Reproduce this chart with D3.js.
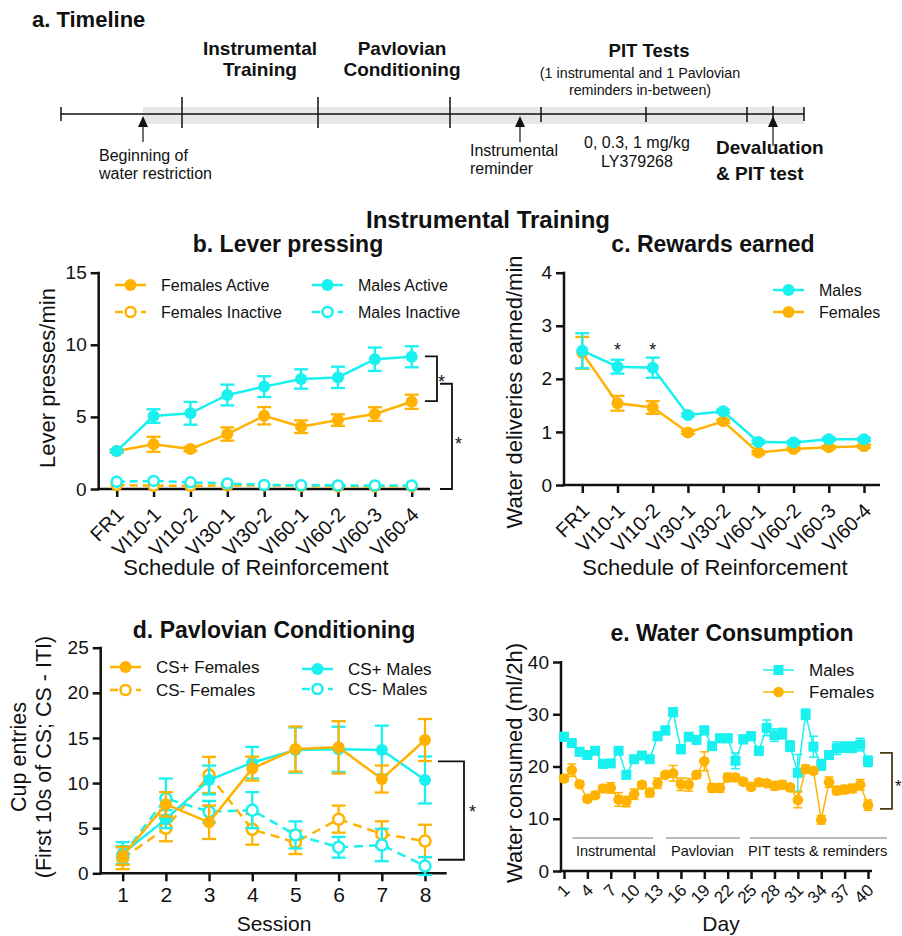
<!DOCTYPE html>
<html lang="en">
<head>
<meta charset="UTF-8">
<title>Figure</title>
<script src="https://cdn.jsdelivr.net/npm/d3@7"></script>
<style>
*{margin:0; padding:0;}
body{background:#fff;}
svg text{font-family:"Liberation Sans", Arial, Helvetica, sans-serif; fill:#111;}
.axis path, .axis line{stroke:#111;}
</style>
</head>
<body>
<script>
// ---- data ----
var schedules = ["FR1", "VI10-1", "VI10-2", "VI30-1", "VI30-2", "VI60-1", "VI60-2", "VI60-3", "VI60-4"];

var femActive     = [2.63, 3.10, 2.77, 3.81, 5.08, 4.32, 4.78, 5.20, 6.05];
var femActiveSem  = [0.10, 0.52, 0.15, 0.46, 0.60, 0.44, 0.40, 0.47, 0.49];
var malActive     = [2.63, 5.06, 5.25, 6.52, 7.10, 7.63, 7.74, 9.00, 9.17];
var malActiveSem  = [0.10, 0.47, 0.79, 0.72, 0.72, 0.67, 0.74, 0.81, 0.73];
var femInactive   = [0.28, 0.22, 0.22, 0.25, 0.25, 0.20, 0.18, 0.18, 0.18];
var malInactive   = [0.50, 0.56, 0.46, 0.39, 0.28, 0.26, 0.25, 0.25, 0.24];

var malRewards    = [2.53, 2.23, 2.21, 1.32, 1.39, 0.81, 0.80, 0.86, 0.86];
var malRewardsSem = [0.33, 0.13, 0.19, 0.03, 0.03, 0.03, 0.03, 0.03, 0.03];
var femRewards    = [2.49, 1.54, 1.46, 0.99, 1.20, 0.61, 0.68, 0.71, 0.73];
var femRewardsSem = [0.30, 0.14, 0.12, 0.03, 0.03, 0.03, 0.03, 0.03, 0.03];

var sessions      = [1, 2, 3, 4, 5, 6, 7, 8];
var csPlusFem     = [1.92, 7.64, 5.65, 11.6, 13.77, 13.96, 10.45, 14.77];
var csPlusFemSem  = [1.0, 1.35, 1.85, 1.33, 2.5, 2.9, 1.5, 2.33];
var csPlusMal     = [2.2, 6.0, 10.34, 12.26, 13.66, 13.74, 13.66, 10.34];
var csPlusMalSem  = [1.25, 1.0, 1.6, 1.75, 2.5, 2.5, 2.7, 2.6];
var csMinFem      = [1.66, 5.0, 10.9, 4.87, 3.43, 6.0, 4.36, 3.58];
var csMinFemSem   = [1.2, 1.45, 2.0, 1.7, 1.3, 1.5, 1.4, 1.8];
var csMinMal      = [2.0, 8.3, 6.83, 7.0, 4.25, 2.88, 3.14, 0.81];
var csMinMalSem   = [1.0, 2.2, 1.2, 2.0, 1.5, 1.15, 1.8, 1.0];

var days = d3.range(1, 41);
var malWater = [25.7, 24.5, 22.8, 22.2, 23.0, 20.5, 20.6, 23.0, 18.4, 21.4,
                22.1, 21.4, 25.8, 26.9, 30.4, 23.3, 25.7, 25.1, 26.9, 23.9,
                25.4, 25.4, 21.1, 25.2, 25.8, 23.0, 27.4, 26.0, 26.3, 23.9,
                18.8, 30.0, 23.8, 20.3, 22.2, 23.5, 23.7, 23.7, 24.2, 21.0];
var malWaterSem = [0.8, 0.6, 0.6, 0.6, 0.6, 0.6, 0.5, 0.6, 0.6, 0.6,
                   0.6, 0.6, 0.8, 0.8, 0.8, 0.8, 0.7, 0.7, 0.8, 0.8,
                   0.7, 0.8, 1.5, 0.8, 0.8, 0.8, 1.5, 1.2, 1.0, 1.0,
                   3.5, 1.0, 2.0, 1.0, 0.8, 1.2, 1.0, 1.0, 1.2, 1.0];
var femWater = [17.7, 19.3, 16.6, 13.8, 14.5, 15.8, 15.9, 13.7, 13.3, 14.7,
                16.5, 15.0, 16.8, 18.4, 18.7, 16.6, 16.5, 18.4, 21.0, 15.9,
                15.9, 17.9, 17.9, 17.1, 16.1, 17.0, 16.8, 16.3, 16.5, 16.0,
                13.6, 19.5, 19.2, 9.8, 17.0, 15.4, 15.6, 15.8, 16.5, 12.6];
var femWaterSem = [0.6, 1.2, 0.6, 0.6, 0.6, 0.6, 1.0, 1.3, 1.0, 1.0,
                   0.6, 0.8, 1.0, 0.6, 1.5, 1.2, 1.2, 0.6, 1.8, 0.8,
                   0.8, 0.8, 0.6, 0.6, 0.6, 0.6, 0.6, 0.8, 0.8, 0.6,
                   1.5, 0.8, 0.6, 0.8, 1.0, 0.8, 0.8, 0.8, 1.0, 1.0];

var ticksB = [0, 5, 10, 15];
var ticksC = [0, 1, 2, 3, 4];
var ticksD = [0, 5, 10, 15, 20, 25];
var ticksE = [0, 10, 20, 30, 40];
var dayTicks = d3.range(1, 41, 3);

var ORANGE = "#FFB300", CYAN = "#19F0F0";

var svg = d3.select("body").append("svg")
	.attr("width", 902)
	.attr("height", 936);

function txt(g, x, y, s, size, opts) {
	opts = opts || {};
	return g.append("text")
		.attr("x", x).attr("y", y)
		.attr("font-size", size)
		.attr("font-weight", opts.bold ? "bold" : null)
		.attr("text-anchor", opts.anchor || "start")
		.text(s);
}
function vtxt(g, x, y, s, size) {
	return g.append("text").attr("transform", "translate(" + x + "," + y + ") rotate(-90)")
		.attr("text-anchor", "middle").attr("font-size", size).text(s);
}

// ---- a. timeline ----
var tl = svg.append("g");
txt(tl, 32, 27, "a. Timeline", 22, {bold: true});
tl.append("rect").attr("x", 143).attr("y", 107).attr("width", 661).attr("height", 17).attr("fill", "#e6e8e8");
tl.append("line").attr("x1", 61).attr("x2", 804).attr("y1", 114).attr("y2", 114).attr("stroke", "#111").attr("stroke-width", 1.5);
[[61, 107, 121], [182, 97, 128], [318, 97, 128], [450, 97, 128], [541, 107, 122], [646, 107, 122], [747, 107, 122], [773, 106, 120], [804, 107, 121]]
	.forEach(function(t) {
		tl.append("line").attr("x1", t[0]).attr("x2", t[0]).attr("y1", t[1]).attr("y2", t[2]).attr("stroke", "#111").attr("stroke-width", 1.5);
	});
[[143, 142], [520, 142], [773, 146]].forEach(function(a) {
	tl.append("line").attr("x1", a[0]).attr("x2", a[0]).attr("y1", 124).attr("y2", a[1]).attr("stroke", "#111").attr("stroke-width", 1.2);
	tl.append("path").attr("d", "M" + a[0] + ",116 l-5,11 l10,0 z").attr("fill", "#111");
});
txt(tl, 260, 55, "Instrumental", 19, {bold: true, anchor: "middle"});
txt(tl, 260, 76, "Training", 19, {bold: true, anchor: "middle"});
txt(tl, 402, 55, "Pavlovian", 19, {bold: true, anchor: "middle"});
txt(tl, 402, 76, "Conditioning", 19, {bold: true, anchor: "middle"});
txt(tl, 649, 57, "PIT Tests", 18.5, {bold: true, anchor: "middle"});
txt(tl, 640, 78, "(1 instrumental and 1 Pavlovian", 14.3, {anchor: "middle"});
txt(tl, 640, 95, "reminders in-between)", 14.3, {anchor: "middle"});
txt(tl, 99, 161, "Beginning of", 16);
txt(tl, 99, 179, "water restriction", 16);
txt(tl, 470, 156, "Instrumental", 16);
txt(tl, 470, 174, "reminder", 16);
txt(tl, 637, 148, "0, 0.3, 1  mg/kg", 16, {anchor: "middle"});
txt(tl, 637, 167, "LY379268", 16, {anchor: "middle"});
txt(tl, 716, 154, "Devaluation", 19, {bold: true});
txt(tl, 716, 180, "& PIT test", 19, {bold: true});

txt(svg, 488, 228, "Instrumental Training", 24, {bold: true, anchor: "middle"});

// ---- helpers ----
function drawAxes(g, x, y, yTicks, x0, xEnd, xTicks, opts) {
	var y0 = y.range()[0], yTop = y.range()[1];
	var ya = g.append("g").attr("class", "axis").attr("transform", "translate(" + x0 + ",0)")
		.call(d3.axisLeft(y).tickValues(yTicks).tickFormat(d3.format("d")).tickSize(8).tickPadding(4));
	ya.select(".domain").remove();
	ya.selectAll("line").attr("stroke-width", 2.5);
	ya.selectAll("text").attr("font-size", opts.yFont || 19).style("fill", "#111");
	g.append("line").attr("x1", x0).attr("x2", x0).attr("y1", yTop - 1).attr("y2", y0 + 1.2)
		.attr("stroke", "#111").attr("stroke-width", 2.5);
	var xAxis = d3.axisBottom(x).tickSize(8).tickPadding(6);
	if (xTicks) xAxis.tickValues(xTicks).tickFormat(d3.format("d"));
	var xa = g.append("g").attr("class", "axis").attr("transform", "translate(0," + y0 + ")").call(xAxis);
	xa.select(".domain").remove();
	xa.selectAll("line").attr("stroke-width", 2.5);
	xa.selectAll("text").attr("font-size", opts.xFont || 20).style("fill", "#111");
	if (opts.rotate) {
		xa.selectAll("text").attr("text-anchor", "end").attr("x", 0).attr("y", 0).attr("dy", "0.35em")
			.attr("transform", "translate(" + opts.rotate[0] + "," + opts.rotate[1] + ") rotate(-45)");
	}
	g.append("line").attr("x1", x0 - 1.2).attr("x2", xEnd).attr("y1", y0).attr("y2", y0)
		.attr("stroke", "#111").attr("stroke-width", 2.5);
}

function drawSeries(g, xs, vals, sems, x, y, o) {
	var pts = xs.map(function(d, i) { return {x: x(d), v: vals[i], s: sems ? sems[i] : 0}; });
	g.append("path").datum(pts)
		.attr("d", d3.line().x(function(d) { return d.x; }).y(function(d) { return y(d.v); }))
		.attr("fill", "none").attr("stroke", o.color).attr("stroke-width", o.lw || 2.5)
		.attr("stroke-dasharray", o.dash || null);
	if (sems) {
		var cw = o.cap || 7;
		pts.forEach(function(p) {
			if (!p.s) return;
			var ya = y(p.v + p.s), yb = y(p.v - p.s);
			var eb = g.append("g").attr("stroke", o.color).attr("stroke-width", o.ew || 2.3);
			eb.append("line").attr("x1", p.x).attr("x2", p.x).attr("y1", ya).attr("y2", yb);
			eb.append("line").attr("x1", p.x - cw).attr("x2", p.x + cw).attr("y1", ya).attr("y2", ya);
			eb.append("line").attr("x1", p.x - cw).attr("x2", p.x + cw).attr("y1", yb).attr("y2", yb);
		});
	}
	pts.forEach(function(p) {
		if (o.square) {
			g.append("rect").attr("x", p.x - o.r).attr("y", y(p.v) - o.r)
				.attr("width", 2 * o.r).attr("height", 2 * o.r).attr("fill", o.color);
		} else {
			g.append("circle").attr("cx", p.x).attr("cy", y(p.v)).attr("r", o.r || 6)
				.attr("fill", o.hollow ? "#fff" : o.color)
				.attr("stroke", o.hollow ? o.color : "none").attr("stroke-width", 2.5);
		}
	});
}

function legendItem(g, x, y, label, o, size) {
	g.append("line").attr("x1", x).attr("x2", x + 31).attr("y1", y).attr("y2", y)
		.attr("stroke", o.color).attr("stroke-width", o.lw || 2.5).attr("stroke-dasharray", o.dash || null);
	if (o.square) {
		g.append("rect").attr("x", x + 15.5 - o.r).attr("y", y - o.r).attr("width", 2 * o.r).attr("height", 2 * o.r).attr("fill", o.color);
	} else {
		g.append("circle").attr("cx", x + 15.5).attr("cy", y).attr("r", o.r || 6)
			.attr("fill", o.hollow ? "#fff" : o.color).attr("stroke", o.hollow ? o.color : "none").attr("stroke-width", 2.5);
	}
	txt(g, x + 46, y + 6, label, size || 16);
}

function bracket(g, x1, x2, ya, yb, color) {
	g.append("path").attr("d", "M" + x1 + "," + ya + "H" + x2 + "V" + yb + "H" + x1)
		.attr("fill", "none").attr("stroke", color || "#111").attr("stroke-width", 1.8);
}

// ---- b. lever pressing ----
var gb = svg.append("g");
var xb = d3.scalePoint().domain(schedules).range([116.7, 411.7]);
var yb = d3.scaleLinear().domain([0, 15]).range([489, 272.7]);
txt(gb, 288, 252, "b. Lever pressing", 23, {bold: true, anchor: "middle"});
drawAxes(gb, xb, yb, ticksB, 98.7, 430, null, {rotate: [3, 22]});
drawSeries(gb, schedules, femInactive, null, xb, yb, {color: ORANGE, hollow: true, dash: "8,5", r: 5});
drawSeries(gb, schedules, malInactive, null, xb, yb, {color: CYAN, hollow: true, dash: "8,5", r: 5});
drawSeries(gb, schedules, femActive, femActiveSem, xb, yb, {color: ORANGE});
drawSeries(gb, schedules, malActive, malActiveSem, xb, yb, {color: CYAN});
legendItem(gb, 115, 285, "Females Active", {color: ORANGE});
legendItem(gb, 115, 312, "Females Inactive", {color: ORANGE, hollow: true, dash: "8,5", r: 5});
legendItem(gb, 312, 285, "Males Active", {color: CYAN});
legendItem(gb, 312, 312, "Males Inactive", {color: CYAN, hollow: true, dash: "8,5", r: 5});
bracket(gb, 425, 437, yb(9.2), yb(6.1));
txt(gb, 438, 388, "*", 18);
bracket(gb, 440, 452, yb(7.3), yb(0));
txt(gb, 455, 450, "*", 18);
vtxt(gb, 55, 378, "Lever presses/min", 22);
txt(gb, 256, 575, "Schedule of Reinforcement", 22, {anchor: "middle"});

// ---- c. rewards earned ----
var gc = svg.append("g");
var xc = d3.scalePoint().domain(schedules).range([582.3, 864]);
var yc = d3.scaleLinear().domain([0, 4]).range([485, 272.7]);
txt(gc, 713, 252, "c. Rewards earned", 23, {bold: true, anchor: "middle"});
drawAxes(gc, xc, yc, ticksC, 564, 880, null, {rotate: [3, 22]});
drawSeries(gc, schedules, femRewards, femRewardsSem, xc, yc, {color: ORANGE});
drawSeries(gc, schedules, malRewards, malRewardsSem, xc, yc, {color: CYAN});
legendItem(gc, 773, 290, "Males", {color: CYAN});
legendItem(gc, 773, 312, "Females", {color: ORANGE});
txt(gc, xc("VI10-1"), 356, "*", 18, {anchor: "middle"});
txt(gc, xc("VI10-2"), 356, "*", 18, {anchor: "middle"});
vtxt(gc, 522, 392, "Water deliveries earned/min", 22);
txt(gc, 715, 575, "Schedule of Reinforcement", 22, {anchor: "middle"});

// ---- d. pavlovian conditioning ----
var gd = svg.append("g");
var xd = d3.scaleLinear().domain([1, 8]).range([122.7, 425]);
var yd = d3.scaleLinear().domain([0, 25]).range([873.3, 647.7]);
txt(gd, 274, 638, "d. Pavlovian Conditioning", 23, {bold: true, anchor: "middle"});
drawAxes(gd, xd, yd, ticksD, 100.7, 446.7, sessions, {xFont: 21});
drawSeries(gd, sessions, csMinFem, csMinFemSem, xd, yd, {color: ORANGE, hollow: true, dash: "9,6", r: 5.5});
drawSeries(gd, sessions, csMinMal, csMinMalSem, xd, yd, {color: CYAN, hollow: true, dash: "9,6", r: 5.5});
drawSeries(gd, sessions, csPlusMal, csPlusMalSem, xd, yd, {color: CYAN});
drawSeries(gd, sessions, csPlusFem, csPlusFemSem, xd, yd, {color: ORANGE});
legendItem(gd, 110, 667, "CS+ Females", {color: ORANGE}, 17);
legendItem(gd, 110, 690, "CS- Females", {color: ORANGE, hollow: true, dash: "8,5", r: 5}, 17);
legendItem(gd, 302, 669, "CS+ Males", {color: CYAN}, 17);
legendItem(gd, 302, 689, "CS- Males", {color: CYAN, hollow: true, dash: "8,5", r: 5}, 17);
bracket(gd, 438, 464, yd(12.4), yd(1.5));
txt(gd, 469, 818, "*", 18);
vtxt(gd, 26, 757, "Cup entries", 21.5);
vtxt(gd, 51, 757, "(First 10s of CS; CS - ITI)", 21.5);
txt(gd, 274, 931, "Session", 21, {anchor: "middle"});

// ---- e. water consumption ----
var ge = svg.append("g");
var xe = d3.scaleLinear().domain([1, 40]).range([564, 868]);
var ye = d3.scaleLinear().domain([0, 40]).range([871, 662]);
txt(ge, 732, 641, "e. Water Consumption", 23, {bold: true, anchor: "middle"});
drawAxes(ge, xe, ye, ticksE, 561, 872, dayTicks, {rotate: [2, 16], xFont: 17});
drawSeries(ge, days, malWater, malWaterSem, xe, ye, {color: CYAN, square: true, r: 5, lw: 1.5, ew: 1.5, cap: 4.5});
drawSeries(ge, days, femWater, femWaterSem, xe, ye, {color: ORANGE, r: 5.3, lw: 1.5, ew: 1.5, cap: 4.5});
legendItem(ge, 763, 670, "Males", {color: CYAN, square: true, r: 5, lw: 1.5}, 17);
legendItem(ge, 763, 692, "Females", {color: ORANGE, r: 5.3, lw: 1.5}, 17);
bracket(ge, 880, 892, ye(22.6), ye(11.9), "#4a3c10");
txt(ge, 895, 792, "*", 17);
[[572.7, 653, 576, "Instrumental"], [665.7, 740, 671, "Pavlovian"], [750, 887, 748, "PIT tests & reminders"]]
	.forEach(function(p) {
		ge.append("line").attr("x1", p[0]).attr("x2", p[1]).attr("y1", 838).attr("y2", 838)
			.attr("stroke", "#777").attr("stroke-width", 1.2);
		txt(ge, p[2], 856, p[3], 14.5);
	});
vtxt(ge, 522, 763, "Water consumed (ml/2h)", 22);
txt(ge, 721, 931, "Day", 21, {anchor: "middle"});
</script>
</body>
</html>
